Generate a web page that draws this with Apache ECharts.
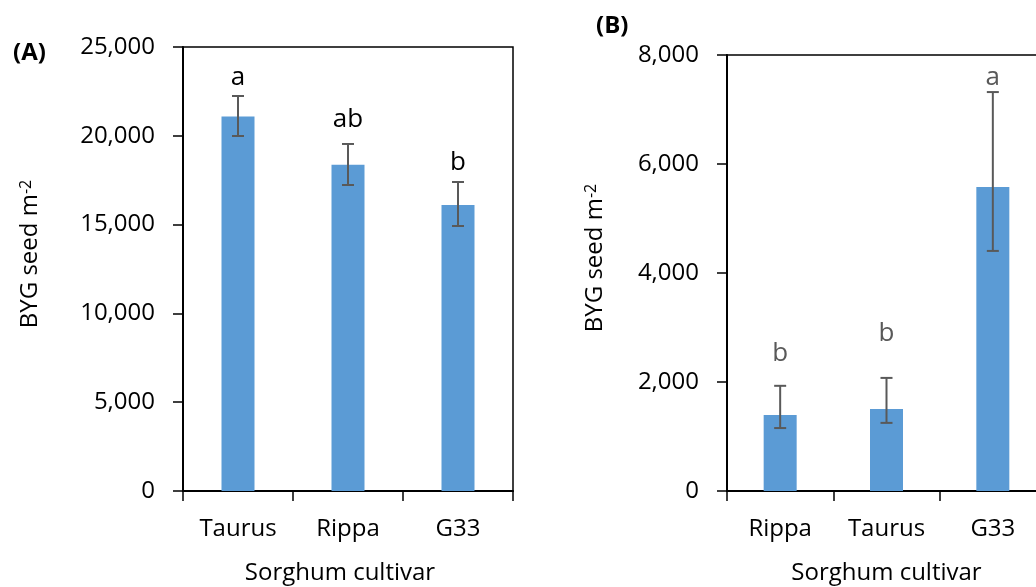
<!DOCTYPE html>
<html>
<head>
<meta charset="utf-8">
<script src="https://cdn.jsdelivr.net/npm/echarts@6/dist/echarts.min.js"></script>
<style>
  html, body { margin: 0; padding: 0; background: #fff; }
  #chart { width: 1036px; height: 587px; }
</style>
</head>
<body>
<div id="chart"></div>
<script>
// panel A: seed bank after each cultivar
const cultivarsA = ["Taurus", "Rippa", "G33"];
const meanA = [21080, 18370, 16110];
const lowA = [19990, 17230, 14920];
const highA = [22240, 19540, 17400];
const lettersA = ["a", "ab", "b"];
const letterAtA = [23280, 20890, 18470];

// panel B
const cultivarsB = ["Rippa", "Taurus", "G33"];
const meanB = [1395, 1505, 5580];
const lowB = [1155, 1250, 4405];
const highB = [1930, 2075, 7320];
const lettersB = ["b", "b", "a"];
const letterAtB = [2530, 2880, 7590];

const yTicksA = { min: 0, max: 25000, interval: 5000 };
const yTicksB = { min: 0, max: 8000, interval: 2000 };

const FONT = "Open Sans";
const barColor = "#5B9BD5";
const errColor = "#595959";

let myChart = echarts.init(document.getElementById("chart"));

function errorBars(xIdx, yIdx, low, high) {
  return {
    type: "custom",
    xAxisIndex: xIdx,
    yAxisIndex: yIdx,
    z: 5,
    data: low.map((v, i) => [i, v, high[i]]),
    encode: { x: 0, y: [1, 2] },
    renderItem: function (params, api) {
      const lo = api.coord([api.value(0), api.value(1)]);
      const hi = api.coord([api.value(0), api.value(2)]);
      const w = 6;
      const style = { stroke: errColor, lineWidth: 2 };
      return {
        type: "group",
        children: [
          { type: "line", shape: { x1: lo[0], y1: lo[1], x2: hi[0], y2: hi[1] }, style: style },
          { type: "line", shape: { x1: hi[0] - w, y1: hi[1], x2: hi[0] + w, y2: hi[1] }, style: style },
          { type: "line", shape: { x1: lo[0] - w, y1: lo[1], x2: lo[0] + w, y2: lo[1] }, style: style },
        ],
      };
    },
  };
}

function letterSeries(xIdx, yIdx, letters, at, color) {
  return {
    type: "custom",
    xAxisIndex: xIdx,
    yAxisIndex: yIdx,
    z: 6,
    data: at.map((v, i) => [i, v]),
    renderItem: function (params, api) {
      const p = api.coord([api.value(0), api.value(1)]);
      return {
        type: "text",
        x: p[0],
        y: p[1],
        style: {
          text: letters[params.dataIndex],
          fill: color,
          font: "26px '" + FONT + "'",
          align: "center",
          verticalAlign: "middle",
        },
      };
    },
  };
}

function xAxisOf(gridIndex, cats, namePad) {
  return {
    type: "category",
    gridIndex: gridIndex,
    data: cats,
    name: "Sorghum cultivar",
    nameLocation: "middle",
    nameGap: 70,
    nameTextStyle: { fontFamily: FONT, fontSize: 24, color: "#000", padding: namePad },
    axisLine: { lineStyle: { color: "#000", width: 2 } },
    axisTick: { show: true, length: 10, lineStyle: { color: "#000", width: 1.5 } },
    axisLabel: { fontFamily: FONT, fontSize: 24, color: "#000", margin: 26 },
    splitLine: { show: false },
  };
}

function yAxisOf(gridIndex, ticks, gap) {
  return {
    type: "value",
    gridIndex: gridIndex,
    min: ticks.min,
    max: ticks.max,
    interval: ticks.interval,
    name: "BYG seed m{sup|-2}",
    nameLocation: "middle",
    nameRotate: 90,
    nameGap: gap,
    nameTextStyle: {
      fontFamily: FONT,
      fontSize: 24,
      color: "#000",
      padding: [0, 0, 0, 30],
      rich: {
        sup: { fontFamily: FONT, fontSize: 16, lineHeight: 16, verticalAlign: "top", color: "#000" },
      },
    },
    axisLine: { show: true, lineStyle: { color: "#000", width: 2 } },
    axisTick: { show: true, length: 10, lineStyle: { color: "#000", width: 1.5 } },
    axisLabel: {
      fontFamily: FONT,
      fontSize: 24,
      color: "#000",
      margin: 28,
      formatter: (v) => v.toLocaleString("en-US"),
    },
    splitLine: { show: false },
  };
}

myChart.setOption({
  animation: false,
  title: [
    { text: "(A)", left: 8, top: 36, textStyle: { fontFamily: FONT, fontSize: 24, fontWeight: "bold", color: "#000" } },
    { text: "(B)", left: 591, top: 9, textStyle: { fontFamily: FONT, fontSize: 24, fontWeight: "bold", color: "#000" } },
  ],
  grid: [
    { left: 183, top: 47, width: 330, height: 444, show: true, borderColor: "#000", borderWidth: 1.5, outerBoundsMode: "none" },
    { left: 727, top: 55, width: 319, height: 436, show: true, borderColor: "#000", borderWidth: 1.5, outerBoundsMode: "none" },
  ],
  xAxis: [xAxisOf(0, cultivarsA, [0, 16, 0, 0]), xAxisOf(1, cultivarsB, 0)],
  yAxis: [yAxisOf(0, yTicksA, 141), yAxisOf(1, yTicksB, 120)],
  series: [
    { type: "bar", xAxisIndex: 0, yAxisIndex: 0, data: meanA, barWidth: 33, itemStyle: { color: barColor } },
    { type: "bar", xAxisIndex: 1, yAxisIndex: 1, data: meanB, barWidth: 33, itemStyle: { color: barColor } },
    errorBars(0, 0, lowA, highA),
    errorBars(1, 1, lowB, highB),
    letterSeries(0, 0, lettersA, letterAtA, "#000"),
    letterSeries(1, 1, lettersB, letterAtB, errColor),
  ],
});
</script>
</body>
</html>
